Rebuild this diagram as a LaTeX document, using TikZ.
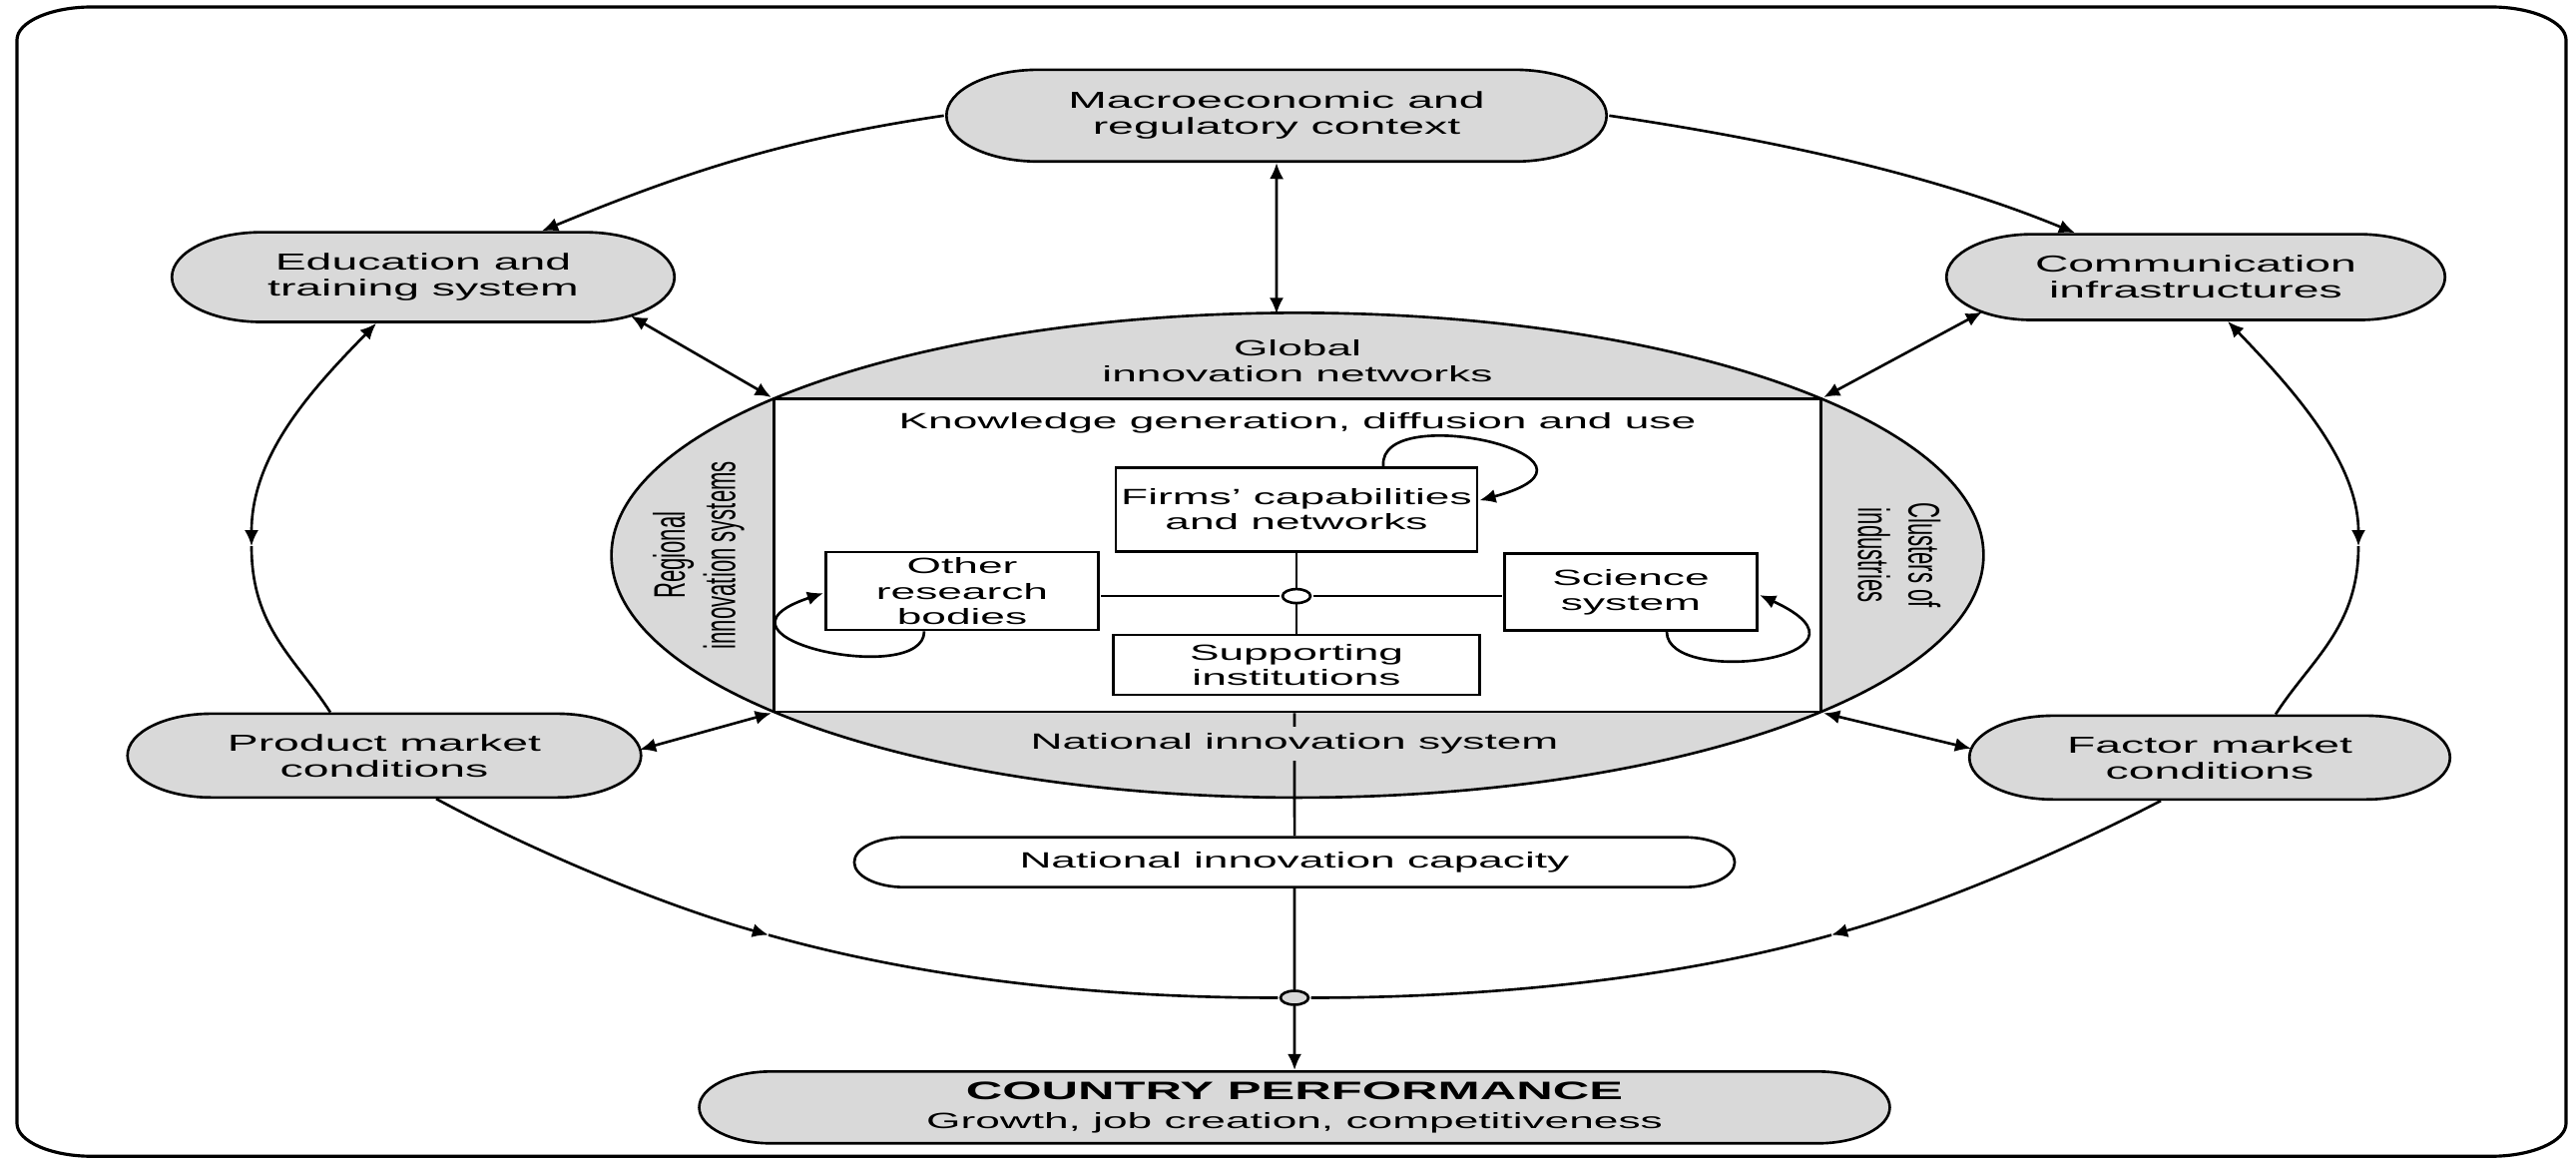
\documentclass[tikz,border=0pt]{standalone}
\usepackage{fontspec}
\setmainfont{Liberation Sans}
\usetikzlibrary{shapes.misc,calc,arrows.meta}
\definecolor{fillgray}{gray}{0.85}
\newcommand{\InFont}{\fontsize{6.3}{7.2}\selectfont}
\newcommand{\OutFont}{\fontsize{6.6}{7.4}\selectfont}

\begin{document}
\begin{tikzpicture}[
                    >={Latex[length=4.6pt,width=4pt]},
                xscale=2, x=0.005cm, y=-0.01cm,
                line width=0.75pt,
                every node/.style={transform shape, inner sep=0pt},
                outerbox/.style={rounded rectangle, draw, fill=fillgray, align=center, font=\OutFont},
                innerbox/.style={draw, fill=white, align=center, font=\InFont},
                tagtext/.style={align=center, font=\InFont},
                joint/.style={circle, draw, minimum size=0.14cm}]

                \useasboundingbox (0,0) rectangle (2581,1167);
                \draw[line width=0.9pt] (92,7) -- (2496,7) .. controls (2537,7) and (2571,22) .. (2571,40)
                    -- (2571,1127) .. controls (2571,1145) and (2537,1160) .. (2496,1160)
                    -- (92,1160) .. controls (51,1160) and (17,1145) .. (17,1127)
                    -- (17,40) .. controls (17,22) and (51,7) .. (92,7) -- cycle;

                \draw[fill=fillgray] (1300,557) ellipse [x radius=3.44cm, y radius=2.43cm];
                \draw(1300,557) node[innerbox, minimum width=5.25cm, minimum height=3.14cm] (K) {};
                \coordinate (T) at (1279,315);

                \draw(1300,362) node[tagtext] (Gl) {Global\\innovation networks};
                \draw(1300,430) node[tagtext, anchor=base] (Kg) {Knowledge generation, diffusion and use};
                \draw(700,557) node[tagtext, rotate=90] (Rg) {Regional\\innovation systems};
                \draw(1903,557) node[tagtext, rotate=-90] (Cl) {Clusters of\\industries};

                \draw(1299,511) node[innerbox, minimum width=1.81cm, minimum height=0.84cm] (W) {Firms' capabilities\\and networks};
                \draw(964,593) node[innerbox, minimum width=1.365cm, minimum height=0.78cm] (O) {Other\\research\\bodies};
                \draw(1634,594) node[innerbox, minimum width=1.265cm, minimum height=0.77cm] (S) {Science\\system};
                \draw(1299,667) node[innerbox, minimum width=1.835cm, minimum height=0.60cm] (I) {Supporting\\institutions};
                \draw(1299,598) node[joint, fill=white] (H) {};

                \draw (W) -- (H) -- (I);
                \draw (H) -- (H -| O.east);
                \draw (H) -- (H -| S.west);
                \draw[->] ($(W.north)+(87,0)$) .. controls (1380,400) and (1640,460) .. ($(W.east)+(0,-9)$);
                \draw[->] ($(O.south)+(-38,0)$) .. controls (926,690) and (690,640) .. ($(O.west)+(0,2)$);
                \draw[->] ($(S.south)+(36,0)$) .. controls (1670,690) and (1900,660) .. ($(S.east)+(0,3)$);

                \draw(1297,865) node[outerbox, fill=white, font=\InFont, minimum width=4.415cm, minimum height=0.5cm] (N) {National innovation capacity};
                \draw (N) -- (N |- K.south);
                \draw(1297,752) node[tagtext, anchor=base, fill=fillgray, inner sep=2pt] (Ns) {National innovation system};

                \draw(1297,1001) node[joint, fill=fillgray] (J) {};
                \draw(1297,1111) node[outerbox, font=\InFont, minimum width=5.97cm, minimum height=0.72cm] (R) {{\fontsize{7.2}{8.2}\selectfont\bfseries COUNTRY PERFORMANCE}\\[1pt]Growth, job creation, competitiveness};
                \draw (N) -- (J);
                \draw[->] (J) -- (R);

                \draw(1279,116) node[outerbox, minimum width=3.31cm, minimum height=0.92cm] (M) {Macroeconomic and\\regulatory context};
                \draw(424,278) node[outerbox, minimum width=2.52cm, minimum height=0.90cm] (E) {Education and\\training system};
                \draw(2200,278) node[outerbox, minimum width=2.50cm, minimum height=0.86cm] (C) {Communication\\infrastructures};
                \draw(385,758) node[outerbox, minimum width=2.575cm, minimum height=0.84cm] (P) {Product market\\conditions};
                \draw(2214,760) node[outerbox, minimum width=2.41cm, minimum height=0.84cm] (F) {Factor market\\conditions};

                \draw[->] (M.west) .. controls (790,139) and (690,171) .. ($(E.north)+(119,0)$);
                \draw[->] (M.east) .. controls (1768,139) and (1932,173) .. ($(C.north)+(-121,0)$);
                \draw[<->] (M) -- (T);
                \draw[<->] ($(E)+(208,39)$) -- (K.north west);
                \draw[<->] ($(C)+(-214,35)$) -- (K.north east);
                \draw[<->] ($(P)+(256,-6)$) -- (K.south west);
                \draw[<->] ($(F)+(-239,-9)$) -- (K.south east);

                \coordinate (L) at (252,548);
                \coordinate (Q) at (2363,548);
                \draw[<->] ($(E.south)+(-47,0)$) .. controls (315,388) and (252,455) .. (L);
                \draw (L) .. controls (252,630) and (296,660) .. ($(P.north)+(-54,0)$);
                \draw[<->] ($(C.south)+(32,0)$) .. controls (2294,387) and (2363,462) .. (Q);
                \draw (Q) .. controls (2363,630) and (2315,662) .. ($(F.north)+(66,0)$);

                \coordinate (U) at (770,938);
                \coordinate (V) at (1835,938);
                \draw[->] ($(P.south)+(52,0)$) .. controls (534,854) and (664,908) .. (U);
                \draw (U) .. controls (933,984) and (1112,1001) .. (J.west);
                \draw[->] ($(F.south)+(-49,0)$) .. controls (2068,854) and (1941,908) .. (V);
                \draw (V) .. controls (1672,984) and (1482,1001) .. (J.east);

            \end{tikzpicture}
\end{document}
